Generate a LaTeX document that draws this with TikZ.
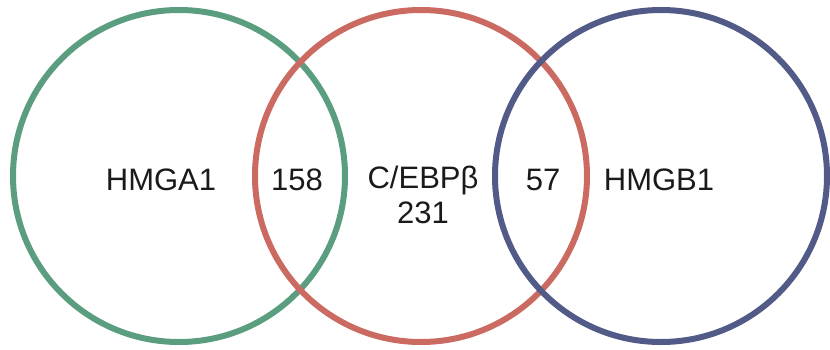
\documentclass[tikz,border=0pt]{standalone}
\usepackage{fontspec}
\setmainfont{Liberation Sans}
\definecolor{cgreen}{HTML}{5B9E7F}
\definecolor{cred}{HTML}{CB6A60}
\definecolor{cblue}{HTML}{525B88}
\definecolor{ctext}{HTML}{1A1A1A}
\begin{document}
\begin{tikzpicture}[x=1pt,y=-1pt,
  ring/.style={line width=6pt},
  lbl/.style={font=\fontsize{31}{34}\selectfont, text=ctext, inner sep=0pt}]
\useasboundingbox (0,0) rectangle (830,349);
\node[circle, ring, draw=cgreen, minimum size=332pt, inner sep=0pt] (g) at (179,176) {};
\node[circle, ring, draw=cred, minimum size=332pt, inner sep=0pt] (r) at (421,176) {};
\node[circle, ring, draw=cblue, minimum size=332pt, inner sep=0pt] (b) at (661,176) {};
\node[lbl] (a1) at (161,180) {HMGA1};
\node[lbl] (n158) at (297,180) {158};
\node[lbl] (ceb) at (423,180) {C/EBPβ};
\node[lbl] (n231) at (423,213) {231};
\node[lbl] (n57) at (543,180) {57};
\node[lbl] (b1) at (659,180) {HMGB1};
\end{tikzpicture}
\end{document}
